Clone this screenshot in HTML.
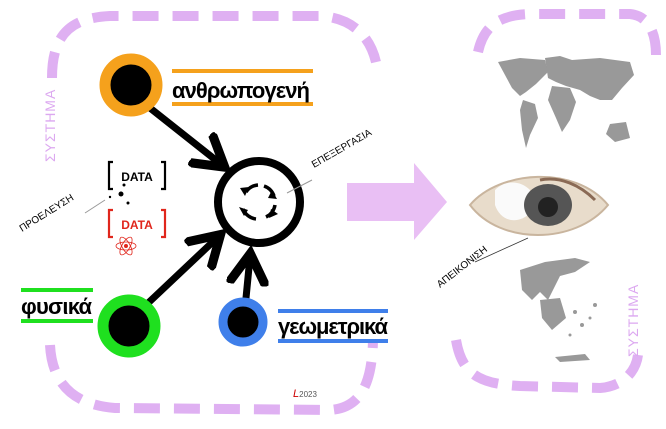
<!DOCTYPE html>
<html><head><meta charset="utf-8"><style>
html,body{margin:0;padding:0;background:#fff;width:666px;height:429px;overflow:hidden}
svg{display:block}
text{font-family:"Liberation Sans","DejaVu Sans",sans-serif}
</style></head><body>
<svg width="666" height="429" viewBox="0 0 666 429" xmlns="http://www.w3.org/2000/svg">
<defs>
<marker id="ah" markerWidth="6" markerHeight="6" refX="4" refY="3" orient="auto" markerUnits="strokeWidth">
<path d="M0,0.3 L4.5,3 L0,5.7" fill="none" stroke="#000" stroke-width="1.3" stroke-linejoin="miter"/>
</marker>
</defs>
<g fill="none" stroke="#dfb0f2" stroke-width="10" stroke-dasharray="26 14">
<path d="M52,78 C52,35 70,18 110,16 L320,16 C355,18 375,40 378,75"/>
<path d="M50,345 C52,385 75,405 115,408 L330,410 C360,408 372,385 373,340"/>
<path d="M478,52 C484,25 500,15 530,14 L630,14 C650,16 656,35 656,55"/>
<path d="M456,340 C462,375 480,384 520,386 L600,388 C625,386 636,370 638,355"/>
</g>
<text transform="translate(55,162) rotate(-90)" font-size="14" fill="#dca8f0" letter-spacing="1">ΣΥΣΤΗΜΑ</text>
<text transform="translate(638,357) rotate(-90)" font-size="14" fill="#dca8f0" letter-spacing="1">ΣΥΣΤΗΜΑ</text>
<!-- big arrow -->
<path d="M347,183 L414,183 L414,163 L447,202 L414,240 L414,221 L347,221 Z" fill="#e9bff4"/>
<!-- arrows -->
<g stroke="#000" stroke-width="7" fill="none" stroke-linecap="round">
<line x1="150" y1="108" x2="222" y2="165" marker-end="url(#ah)"/>
<line x1="146" y1="305" x2="218" y2="237" marker-end="url(#ah)"/>
<line x1="246" y1="298" x2="250" y2="257" marker-end="url(#ah)"/>
</g>
<!-- central circle -->
<circle cx="259" cy="202" r="41" fill="#fff" stroke="#000" stroke-width="8"/>
<g fill="none" stroke="#000" stroke-width="3.5">
<path d="M246,192 A16,16 0 0 1 258,185"/><path d="M264,186 A16,16 0 0 1 274,196"/>
<path d="M275,205 A16,16 0 0 1 266,217"/><path d="M256,219 A16,16 0 0 1 243,209"/>
</g>
<g fill="#000"><path d="M240,188 l9,-1 -4,9z"/><path d="M272,190 l5,9 -9,-1z"/><path d="M278,214 l-9,4 2,-9z"/><path d="M244,216 l-5,-9 9,3z"/></g>
<!-- nodes -->
<circle cx="131" cy="85" r="26" fill="#000" stroke="#f5a11c" stroke-width="11"/>
<circle cx="129" cy="326" r="26" fill="#000" stroke="#1fe01f" stroke-width="11"/>
<circle cx="243" cy="322" r="20" fill="#000" stroke="#3f7fea" stroke-width="9"/>
<!-- labels -->
<g stroke-width="4">
<line x1="172" y1="71" x2="313" y2="71" stroke="#f5a11c"/><line x1="172" y1="104" x2="313" y2="104" stroke="#f5a11c"/>
<line x1="21" y1="290" x2="93" y2="290" stroke="#1fe01f"/><line x1="21" y1="321" x2="93" y2="321" stroke="#1fe01f"/>
<line x1="278" y1="311" x2="388" y2="311" stroke="#3f7fea"/><line x1="278" y1="341" x2="388" y2="341" stroke="#3f7fea"/>
</g>
<text x="172" y="98" font-size="22" font-weight="bold" textLength="138">ανθρωπογενή</text>
<text x="21" y="314" font-size="22" font-weight="bold" textLength="71">φυσικά</text>
<text x="278" y="334" font-size="22" font-weight="bold" textLength="110">γεωμετρικά</text>
<!-- data -->
<g fill="none" stroke-width="2.2">
<path d="M113,162 h-4 v27 h4" stroke="#000"/><path d="M161,162 h4 v27 h-4" stroke="#000"/>
<path d="M113,210 h-4 v27 h4" stroke="#e0261c"/><path d="M161,210 h4 v27 h-4" stroke="#e0261c"/>
</g>
<text x="137" y="181" font-size="12" font-weight="bold" text-anchor="middle">DATA</text>
<text x="137" y="229" font-size="12" font-weight="bold" text-anchor="middle" fill="#e0261c">DATA</text>
<g fill="#000"><circle cx="124" cy="185" r="1.5"/><circle cx="121" cy="194" r="2.5"/><circle cx="110" cy="197" r="1.2"/><circle cx="128" cy="203" r="1.5"/></g>
<g fill="none" stroke="#e0261c" stroke-width="0.8">
<ellipse cx="126" cy="246" rx="10" ry="4"/><ellipse cx="126" cy="246" rx="10" ry="4" transform="rotate(60 126 246)"/><ellipse cx="126" cy="246" rx="10" ry="4" transform="rotate(-60 126 246)"/>
</g><circle cx="126" cy="246" r="2" fill="#e0261c"/>
<text transform="translate(22,232) rotate(-32)" font-size="10">ΠΡΟΕΛΕΥΣΗ</text>
<line x1="85" y1="213" x2="105" y2="200" stroke="#999" stroke-width="1"/>
<text transform="translate(314,168) rotate(-30)" font-size="10">ΕΠΕΞΕΡΓΑΣΙΑ</text>
<line x1="287" y1="193" x2="312" y2="180" stroke="#999" stroke-width="1"/>
<text x="293" y="397" font-size="8" fill="#555"><tspan fill="#c00" font-style="italic" font-size="11">L</tspan>2023</text>
<!-- world map -->
<g fill="#999">
<path d="M498,62 L520,58 L545,60 L548,72 L536,84 L526,92 L520,96 L512,88 L505,75 Z"/>
<path d="M523,100 L535,104 L538,118 L530,135 L526,148 L522,130 L520,110 Z"/>
<path d="M545,58 L560,56 L572,60 L600,58 L630,62 L634,75 L622,88 L612,100 L600,100 L590,96 L580,90 L566,86 L556,82 L548,78 Z"/>
<path d="M552,86 L570,88 L576,102 L570,120 L562,132 L556,118 L548,100 Z"/>
<path d="M610,124 L626,122 L630,138 L615,142 L606,134 Z"/>
</g>
<!-- eye -->
<path d="M470,205 C500,170 575,165 608,205 C575,245 500,245 470,205 Z" fill="#e8dccb" stroke="#c9b59e" stroke-width="2"/>
<path d="M495,190 C505,180 520,180 530,190 L528,215 C515,225 500,220 495,205 Z" fill="#fafafa"/>
<ellipse cx="548" cy="205" rx="24" ry="21" fill="#555"/>
<ellipse cx="548" cy="207" rx="10" ry="10" fill="#222"/>
<path d="M540,180 C560,176 580,185 595,200" fill="none" stroke="#8a6a55" stroke-width="3"/>
<text transform="translate(440,288) rotate(-38)" font-size="10">ΑΠΕΙΚΟΝΙΣΗ</text>
<line x1="475" y1="262" x2="528" y2="238" stroke="#333" stroke-width="0.8"/>
<!-- greece -->
<g fill="#999">
<path d="M520,270 L545,262 L575,258 L590,262 L575,272 L560,276 L553,290 L548,300 L540,292 L532,300 L522,290 Z"/>
<path d="M540,300 L560,298 L566,318 L552,330 L542,318 Z"/>
<path d="M555,357 L585,354 L590,360 L560,362 Z"/>
<circle cx="575" cy="312" r="2"/><circle cx="582" cy="325" r="2"/><circle cx="570" cy="335" r="1.5"/><circle cx="590" cy="318" r="1.5"/><circle cx="595" cy="305" r="2"/>
</g>
</svg>
</body></html>
